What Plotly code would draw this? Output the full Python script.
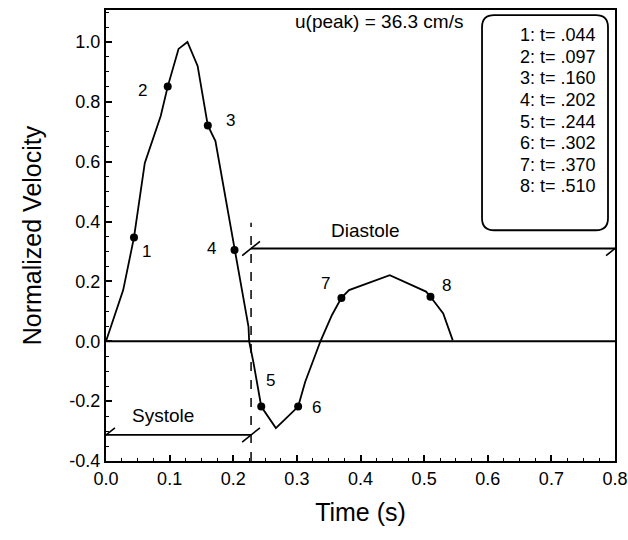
import plotly.graph_objects as go

# Curve (time s, normalized velocity)
curve_t = [0.0, 0.027, 0.044, 0.061, 0.086, 0.097, 0.114, 0.128, 0.144, 0.160, 0.172,
           0.202, 0.224, 0.225, 0.232, 0.244, 0.267, 0.302, 0.313, 0.337, 0.355, 0.370,
           0.382, 0.446, 0.503, 0.510, 0.530, 0.545]
curve_v = [0.0, 0.171, 0.347, 0.596, 0.753, 0.851, 0.977, 1.0, 0.92, 0.721, 0.669,
           0.305, 0.048, 0.0, -0.074, -0.218, -0.29, -0.218, -0.136, 0.0, 0.087, 0.145,
           0.171, 0.221, 0.166, 0.149, 0.093, 0.003]

# Marked points
point_ids = ["1", "2", "3", "4", "5", "6", "7", "8"]
point_t = [0.044, 0.097, 0.160, 0.202, 0.244, 0.302, 0.370, 0.510]
point_v = [0.347, 0.851, 0.721, 0.305, -0.218, -0.218, 0.145, 0.149]
label_t = [0.063, 0.058, 0.196, 0.166, 0.259, 0.331, 0.345, 0.535]
label_v = [0.301, 0.839, 0.739, 0.311, -0.130, -0.221, 0.194, 0.187]

legend_lines = ["1: t= .044", "2: t= .097", "3: t= .160", "4: t= .202",
                "5: t= .244", "6: t= .302", "7: t= .370", "8: t= .510"]

x_ticks = [0.0, 0.1, 0.2, 0.3, 0.4, 0.5, 0.6, 0.7, 0.8]
y_ticks = [-0.4, -0.2, 0.0, 0.2, 0.4, 0.6, 0.8, 1.0]

t_split = 0.228
systole_v = -0.313
diastole_v = 0.31

FONT = "Liberation Sans, Arial, sans-serif"

fig = go.Figure()
# zero line
fig.add_trace(go.Scatter(x=[0.0, 0.8], y=[0.0, 0.0], mode="lines",
                         line=dict(color="black", width=2), hoverinfo="skip"))
fig.add_trace(go.Scatter(x=curve_t, y=curve_v, mode="lines",
                         line=dict(color="black", width=1.8)))
fig.add_trace(go.Scatter(x=point_t, y=point_v, mode="markers",
                         marker=dict(color="black", size=8)))

for lbl, lx, ly in zip(point_ids, label_t, label_v):
    fig.add_annotation(x=lx, y=ly, text=lbl, showarrow=False,
                       font=dict(family=FONT, size=17, color="black"))

# Systole / Diastole
fig.add_shape(type="line", x0=t_split, x1=t_split, y0=-0.4, y1=0.396,
              line=dict(color="black", width=1.5, dash="dash"))
fig.add_shape(type="line", x0=0.0, x1=t_split, y0=systole_v, y1=systole_v,
              line=dict(color="black", width=1.8))
fig.add_shape(type="line", x0=t_split, x1=0.8, y0=diastole_v, y1=diastole_v,
              line=dict(color="black", width=1.8))
# slashes
for sx, sy in [(0.0, systole_v), (t_split, systole_v), (t_split, diastole_v), (0.8, diastole_v)]:
    fig.add_shape(type="line", x0=sx - 0.014, x1=sx + 0.014, y0=sy - 0.024, y1=sy + 0.024,
                  line=dict(color="black", width=1.6))

fig.add_annotation(x=0.09, y=-0.247, text="Systole", showarrow=False,
                   font=dict(family=FONT, size=19, color="black"))
fig.add_annotation(x=0.408, y=0.371, text="Diastole", showarrow=False,
                   font=dict(family=FONT, size=19, color="black"))
fig.add_annotation(x=0.429, y=1.067, text="u(peak) = 36.3 cm/s", showarrow=False,
                   font=dict(family=FONT, size=19, color="black"))

# legend box (rounded)
bx0, bx1, by0, by1 = 0.591, 0.789, 0.371, 1.090
rx, ry = 0.019, 0.040
path = (f"M {bx0+rx},{by1} L {bx1-rx},{by1} Q {bx1},{by1} {bx1},{by1-ry} "
        f"L {bx1},{by0+ry} Q {bx1},{by0} {bx1-rx},{by0} "
        f"L {bx0+rx},{by0} Q {bx0},{by0} {bx0},{by0+ry} "
        f"L {bx0},{by1-ry} Q {bx0},{by1} {bx0+rx},{by1} Z")
fig.add_shape(type="path", path=path, line=dict(color="black", width=1.8))

for i, txt in enumerate(legend_lines):
    fig.add_annotation(x=0.774, y=1.023 - i * 0.0722, text=txt, showarrow=False,
                       xanchor="right", font=dict(family=FONT, size=18, color="black"))

fig.update_layout(
    width=628, height=540,
    margin=dict(l=106, r=13, t=10, b=79),
    plot_bgcolor="white", paper_bgcolor="white",
    showlegend=False,
    font=dict(family=FONT, color="black"),
)
fig.update_xaxes(
    range=[0.0, 0.8], tickvals=x_ticks, ticktext=[f"{v:.1f}" for v in x_ticks],
    automargin=False,
    showgrid=False, zeroline=False, showline=True, linecolor="black", linewidth=2,
    mirror=True, ticks="inside", ticklen=6, tickwidth=1.5, tickcolor="black",
    tickfont=dict(family=FONT, size=18, color="black"),
    minor=dict(dtick=0.025, ticks="inside", ticklen=3, tickcolor="black", tickwidth=1),
    title=dict(text="Time (s)", font=dict(family=FONT, size=25, color="black"), standoff=16),
)
fig.update_yaxes(
    range=[-0.4, 1.107], tickvals=y_ticks, ticktext=[f"{v:.1f}" for v in y_ticks],
    automargin=False,
    showgrid=False, zeroline=False, showline=True, linecolor="black", linewidth=2,
    mirror=True, ticks="inside", ticklen=6, tickwidth=1.5, tickcolor="black",
    tickfont=dict(family=FONT, size=18, color="black"),
    minor=dict(dtick=0.05, ticks="inside", ticklen=3, tickcolor="black", tickwidth=1),
    title=dict(text="Normalized Velocity", font=dict(family=FONT, size=25, color="black"), standoff=21),
)

fig.write_html("out.html")
